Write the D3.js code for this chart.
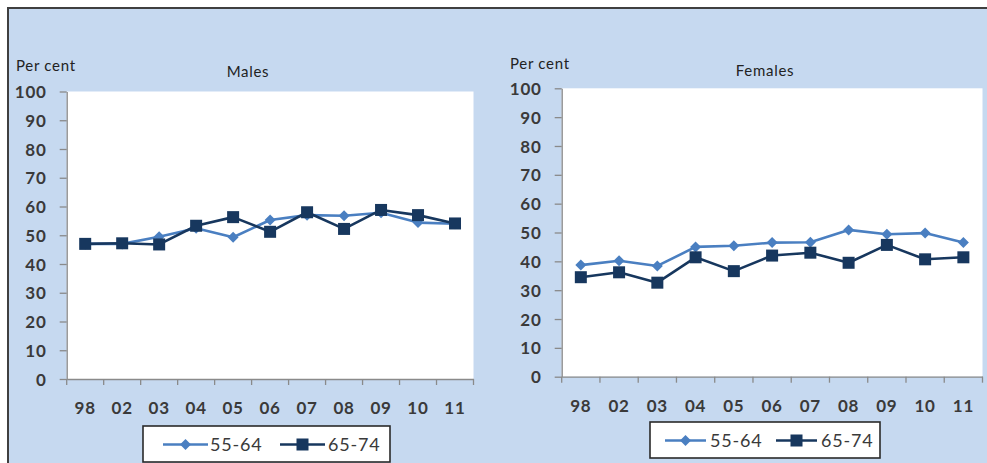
<!DOCTYPE html>
<html><head><meta charset="utf-8">
<script src="https://cdn.jsdelivr.net/npm/d3@7"></script>
<style>
html,body{margin:0;padding:0;background:#fff;}
svg{display:block;}
text{font-family:Lato,"Liberation Sans",sans-serif;}
</style></head>
<body>
<svg id="c" width="987" height="463"></svg>
<script>
// ---- data ----
const years = ["98","02","03","04","05","06","07","08","09","10","11"];
const yTicks = [0,10,20,30,40,50,60,70,80,90,100];
const seriesNames = ["55-64","65-74"];
const males5564   = [47.0,47.0,49.5,52.4,49.3,55.3,57.0,56.8,57.8,54.4,54.0];
const males6574   = [47.0,47.2,46.8,53.3,56.3,51.2,58.0,52.2,58.8,57.0,54.1];
const females5564 = [38.7,40.2,38.4,45.0,45.4,46.5,46.6,50.9,49.4,49.8,46.5];
const females6574 = [34.5,36.2,32.6,41.4,36.6,42.0,43.0,39.5,45.7,40.7,41.4];

const colors = ["#4a7fc1","#17375e"];
const svg = d3.select("#c");

// outer frame
svg.append("rect").attr("x",8).attr("y",8).attr("width",990).attr("height",470)
  .attr("fill","#c6d9f0").attr("stroke","#3f3f3f").attr("stroke-width",2);

const panels = [
  {title:"Males", data:[males5564,males6574], x0:66.7, x1:473.5, yt:91.5, yb:379,
   pc:{x:16,y:71}, tc:{x:248,y:77},
   leg:{x:143,y:426,w:247,h:36, len:45, items:[{lx:163,tx:210},{lx:280,tx:328}]}},
  {title:"Females", data:[females5564,females6574], x0:561.7, x1:982.5, yt:88.3, yb:376.7,
   pc:{x:510,y:69}, tc:{x:765,y:76},
   leg:{x:650,y:422,w:230,h:36, len:41, items:[{lx:665,tx:710},{lx:776,tx:821}]}}
];

function marker(g, i, size){
  if(i===0){
    const s = size/2;
    return g.append("path").attr("d",`M0,${-s}L${s},0L0,${s}L${-s},0Z`).attr("fill",colors[0]);
  } else {
    return g.append("rect").attr("x",-size/2).attr("y",-size/2).attr("width",size).attr("height",size)
      .attr("fill",colors[1]);
  }
}

panels.forEach(p=>{
  const g = svg.append("g");
  const x = d3.scaleBand().domain(years).range([p.x0,p.x1]);
  const y = d3.scaleLinear().domain([0,100]).range([p.yb,p.yt]);

  g.append("rect").attr("x",p.x0).attr("y",p.yt).attr("width",p.x1-p.x0).attr("height",p.yb-p.yt)
    .attr("fill","#fff");

  // y axis
  const ya = g.append("g").attr("transform",`translate(${p.x0},0)`)
    .call(d3.axisLeft(y).tickValues(yTicks).tickSize(7).tickPadding(13).tickSizeOuter(0));
  ya.select(".domain").attr("stroke","#8a8a8a").attr("stroke-width",1.3);
  ya.selectAll(".tick line").attr("stroke","#8a8a8a").attr("stroke-width",1.3);
  ya.selectAll(".tick text").attr("fill","#3a3a3a").style("font-size","17px").style("font-weight","bold")
    .style("font-family","Lato, sans-serif").attr("dy","0.36em").style("letter-spacing","0.8px");

  // x axis
  const xa = g.append("g").attr("transform",`translate(0,${p.yb})`)
    .call(d3.axisBottom(x).tickSize(0).tickPadding(23).tickSizeOuter(0));
  xa.select(".domain").attr("stroke","#8a8a8a").attr("stroke-width",1.3);
  xa.selectAll(".tick text").attr("fill","#3a3a3a").style("font-size","17px").style("font-weight","bold")
    .style("font-family","Lato, sans-serif").style("letter-spacing","0.8px");
  // boundary tick marks
  const bounds = years.map(d=>x(d)).concat([p.x1]);
  g.selectAll("line.xt").data(bounds).join("line").attr("class","xt")
    .attr("x1",d=>d).attr("x2",d=>d).attr("y1",p.yb).attr("y2",p.yb+6)
    .attr("stroke","#8a8a8a").attr("stroke-width",1.3);

  // labels
  g.append("text").attr("x",p.pc.x).attr("y",p.pc.y).text("Per cent")
    .attr("fill","#222").style("font-size","15px").style("letter-spacing","0.7px");
  g.append("text").attr("x",p.tc.x).attr("y",p.tc.y).attr("text-anchor","middle").text(p.title)
    .attr("fill","#222").style("font-size","15px").style("letter-spacing","0.7px");

  // lines
  const line = d3.line().x((d,i)=>x(years[i])+x.bandwidth()/2).y(d=>y(d));
  p.data.forEach((vals,si)=>{
    g.append("path").datum(vals).attr("d",line).attr("fill","none")
      .attr("stroke",colors[si]).attr("stroke-width",2.6).attr("stroke-linejoin","round");
  });
  p.data.forEach((vals,si)=>{
    vals.forEach((v,i)=>{
      const mg = g.append("g").attr("transform",`translate(${x(years[i])+x.bandwidth()/2},${y(v)})`);
      marker(mg, si, si===0?11:12);
    });
  });

  // legend
  const L = p.leg;
  g.append("rect").attr("x",L.x).attr("y",L.y).attr("width",L.w).attr("height",L.h)
    .attr("fill","#fff").attr("stroke","#2a2a2a").attr("stroke-width",1.6);
  const cy = L.y + L.h/2 + 0.5;
  L.items.forEach((it,si)=>{
    g.append("line").attr("x1",it.lx).attr("x2",it.lx+L.len).attr("y1",cy).attr("y2",cy)
      .attr("stroke",colors[si]).attr("stroke-width",2.6);
    const mg = g.append("g").attr("transform",`translate(${it.lx+L.len/2},${cy})`);
    marker(mg, si, si===0?11:12);
    g.append("text").attr("x",it.tx).attr("y",cy).attr("dy","0.36em").text(seriesNames[si])
      .attr("fill","#3a3a3a").style("font-size","18px").style("letter-spacing","0.8px");
  });
});
</script>
</body></html>
